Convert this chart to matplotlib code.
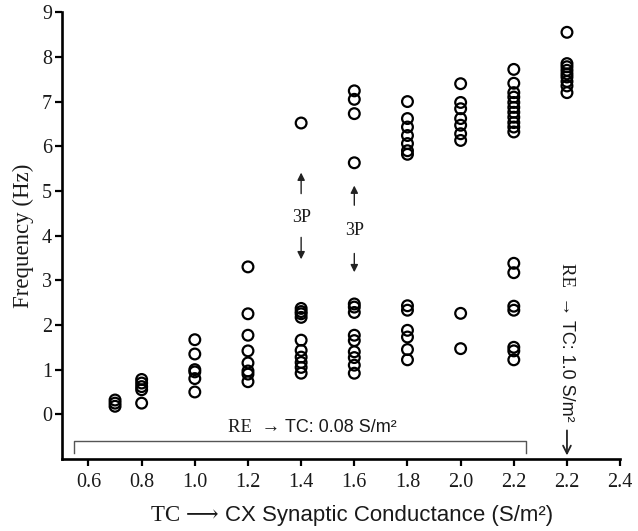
import matplotlib
matplotlib.use("Agg")
import matplotlib.pyplot as plt

plt.rcParams['font.family'] = ['Liberation Serif', 'DejaVu Serif']

# ---- data ----
# x positions on the axis (last group: TC->CX 2.2 with RE->TC 1.0, drawn at axis slot 2.4)
x_groups = [0.7, 0.8, 1.0, 1.2, 1.4, 1.6, 1.8, 2.0, 2.2, 2.4]
freq_0_7 = [0.32, 0.25, 0.18]
freq_0_8 = [0.78, 0.70, 0.62, 0.55, 0.25]
freq_1_0 = [1.67, 1.35, 1.00, 0.95, 0.80, 0.50]
freq_1_2 = [3.30, 2.25, 1.77, 1.42, 1.15, 0.97, 0.90, 0.73]
freq_1_4 = [6.52, 2.37, 2.30, 2.25, 2.17, 1.66, 1.43, 1.28, 1.16, 1.05, 0.92]
freq_1_6 = [7.24, 7.05, 6.73, 5.63, 2.47, 2.40, 2.28, 1.77, 1.65, 1.40, 1.27, 1.10, 0.92]
freq_1_8 = [7.00, 6.62, 6.43, 6.24, 6.06, 5.90, 5.82, 2.43, 2.33, 1.88, 1.73, 1.45, 1.22]
freq_2_0 = [7.40, 6.98, 6.84, 6.62, 6.47, 6.28, 6.13, 2.26, 1.47]
freq_2_2 = [7.72, 7.41, 7.20, 7.10, 6.98, 6.87, 6.76, 6.65, 6.53, 6.43, 6.32,
            3.38, 3.17, 2.42, 2.33, 1.50, 1.42, 1.22]
freq_2_2_re10 = [8.55, 7.85, 7.78, 7.70, 7.62, 7.55, 7.45, 7.35, 7.20]
freq_groups = [freq_0_7, freq_0_8, freq_1_0, freq_1_2, freq_1_4, freq_1_6,
               freq_1_8, freq_2_0, freq_2_2, freq_2_2_re10]

x_tick_pos = [0.6, 0.8, 1.0, 1.2, 1.4, 1.6, 1.8, 2.0, 2.2, 2.4, 2.6]
x_tick_labels = ["0.6", "0.8", "1.0", "1.2", "1.4", "1.6", "1.8", "2.0", "2.2", "2.2", "2.4"]
y_ticks = [0, 1, 2, 3, 4, 5, 6, 7, 8, 9]

SERIF = ['Liberation Serif', 'DejaVu Serif']
SANS = ['Liberation Sans', 'DejaVu Sans']

# ---- figure ----
fig = plt.figure(figsize=(6.38, 5.31), dpi=100)
ax = fig.add_axes([0.097, 0.1356, 0.875, 0.8414])

txt_color = '#1a1a1a'
for xg, fg in zip(x_groups, freq_groups):
    ax.scatter([xg] * len(fg), fg, s=60, facecolors='none', edgecolors='black',
               linewidths=1.6, zorder=3)

ax.set_xlim(0.5, 2.6)
ax.set_ylim(-1, 9)
ax.set_xticks(x_tick_pos)
ax.set_xticklabels(x_tick_labels)
ax.set_yticks(y_ticks)

for sp in ['top', 'right']:
    ax.spines[sp].set_visible(False)
for sp in ['left', 'bottom']:
    ax.spines[sp].set_linewidth(1.9)
    ax.spines[sp].set_color('black')

ax.tick_params(axis='both', direction='out', length=5, width=1.6, colors='black',
               labelcolor=txt_color, labelsize=14.5)
ax.tick_params(axis='x', pad=5)
ax.tick_params(axis='y', pad=2)

ax.set_ylabel("Frequency (Hz)", family=SERIF, fontsize=16.5,
              color=txt_color, labelpad=6)

# x label: serif "TC ->" + sans remainder
xl_split = 0.352
xl_y = 0.029
fig.text(xl_split, xl_y, "TC \u27f6 ", family=SERIF + ['DejaVu Sans'], fontsize=16.5,
         ha='right', va='center', color=txt_color)
fig.text(xl_split, xl_y, "CX Synaptic Conductance (S/m\u00b2)", family=SANS,
         fontsize=16, ha='left', va='center', color=txt_color)

# 3P annotations
arrow_kw = dict(arrowstyle='-|>', lw=1.0, color='#222222', mutation_scale=11,
                shrinkA=0, shrinkB=0)
ax.annotate("", xy=(1.4, 5.41), xytext=(1.4, 4.94), arrowprops=arrow_kw)
ax.text(1.4, 4.41, "3P", ha='center', va='center', family=SERIF,
        fontsize=13, color=txt_color)
ax.annotate("", xy=(1.4, 3.47), xytext=(1.4, 3.96), arrowprops=arrow_kw)

ax.annotate("", xy=(1.6, 5.12), xytext=(1.6, 4.68), arrowprops=arrow_kw)
ax.text(1.6, 4.12, "3P", ha='center', va='center', family=SERIF,
        fontsize=13, color=txt_color)
ax.annotate("", xy=(1.6, 3.18), xytext=(1.6, 3.60), arrowprops=arrow_kw)

# bracket for RE->TC 0.08
bx0, bx1, by, byt = 0.545, 2.245, -0.6, -0.87
ax.plot([bx0, bx0, bx1, bx1], [byt, by, by, byt], color='#555555', lw=1.0,
        clip_on=False, zorder=2)
h_split = 1.34
ax.text(h_split, -0.30, "RE  \u2192 ", family=SERIF, fontsize=13.5, ha='right',
        va='center', color=txt_color)
ax.text(h_split, -0.30, "TC: 0.08 S/m\u00b2", family=SANS, fontsize=13, ha='left',
        va='center', color=txt_color)

# vertical label for RE->TC 1.0
v_split = 2.10
ax.text(2.4, v_split, "RE  \u2192 ", family=SERIF, fontsize=13.5, rotation=-90,
        ha='center', va='bottom', color=txt_color)
ax.text(2.4, v_split, "TC: 1.0 S/m\u00b2", family=SANS, fontsize=13, rotation=-90,
        ha='center', va='top', color=txt_color)
ax.annotate("", xy=(2.4, -0.92), xytext=(2.4, -0.36),
            arrowprops=dict(arrowstyle='->', lw=1.3, color='#222222',
                            mutation_scale=14, shrinkA=0, shrinkB=0))

fig.savefig("out.png", dpi=100)
